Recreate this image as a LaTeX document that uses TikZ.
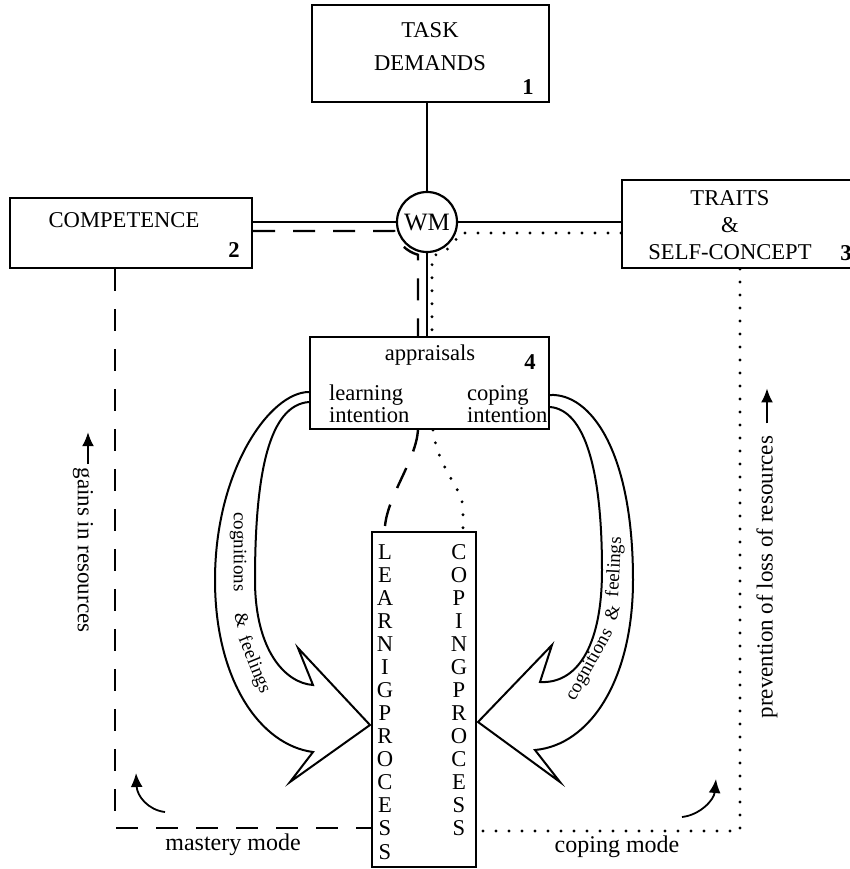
\documentclass[tikz,border=0pt]{standalone}
\usepackage{fontspec}
\setmainfont{Liberation Serif}
\usetikzlibrary{arrows.meta, positioning, calc}
\tikzstyle{block}=[draw,rectangle,line width=1pt,inner sep=0pt]
\tikzstyle{every node}=[font=\fontsize{11.3}{13.5}\selectfont]
\tikzstyle{num}=[font=\fontsize{11.3}{13}\selectfont\bfseries]
\tikzstyle{link}=[line width=0.9pt]
\tikzstyle{mastery}=[line width=1.2pt,dash pattern=on 11pt off 9pt]
\tikzstyle{coping}=[line width=1.6pt,dash pattern=on 0pt off 6.5pt,line cap=round]
\tikzstyle{bigarrow}=[line width=1pt,line join=miter]
\tikzstyle{sidelbl}=[font=\fontsize{11.5}{13}\selectfont,inner sep=1pt]
\tikzstyle{arrowlbl}=[font=\fontsize{9.5}{11}\selectfont,inner sep=1pt]
\tikzstyle{modelbl}=[font=\fontsize{12}{14}\selectfont]

\begin{document}
\begin{tikzpicture}[x=0.5pt,y=-0.5pt,>={Latex[length=7pt,width=6pt]}]
    \useasboundingbox (0,0) rectangle (850,869);

    \node[block, minimum width=118.5pt, minimum height=48.5pt] (task) at (430.5,53.5) {};
    \node[align=center, font=\fontsize{11.3}{16.5}\selectfont] (tasktxt) at (430,47) {TASK\\DEMANDS};
    \node[num] (n1) at ($(task.south east)+(-22,-16)$) {1};

    \node[block, minimum width=121pt, minimum height=35pt] (comp) at (131,233) {};
    \node (comptxt) at (124,220) {COMPETENCE};
    \node[num] (n2) at ($(comp.south east)+(-19,-19)$) {2};

    \node[block, minimum width=118pt, minimum height=44pt] (traits) at (740,224) {};
    \node[align=center] (traitstxt) at (730,225) {TRAITS\\\&\\SELF-CONCEPT};
    \node[num] (n3) at ($(traits.south east)+(-13,-16)$) {3};

    \node[draw, circle, line width=1.1pt, minimum size=30pt, inner sep=0pt,
          font=\fontsize{12.5}{14}\selectfont] (wm) at (427,222) {WM};

    \node[block, minimum width=119.5pt, minimum height=46pt] (appr) at (429.5,383) {};
    \node (apprtxt) at (430,355) {appraisals};
    \node[num] (n4) at ($(appr.north east)+(-20,26)$) {4};
    \node[align=left, anchor=west, font=\fontsize{11.3}{11}\selectfont] (learnint) at (322,404) {learning\\intention};
    \node[align=left, anchor=west, font=\fontsize{11.3}{11}\selectfont] (copeint) at (460,404) {coping\\intention};

    \node[block, minimum width=52pt, minimum height=167.5pt] (proc) at (424,699.5) {};
    \foreach \ch [count=\i from 0] in {L,E,A,R,N,I,G,P,R,O,C,E,S,S}
        \node (learn\i) at (385,{552+23.05*\i}) {\ch};
    \foreach \ch [count=\i from 0] in {C,O,P,I,N,G,P,R,O,C,E,S,S}
        \node (cope\i) at (459,{552+23.05*\i}) {\ch};

    \coordinate (wmsw) at ($(wm.center)+(-32.8,9)$);
    \coordinate (wmse) at ($(wm.center)+(32.2,11)$);
    \coordinate (wmdash) at ($(wm.center)+(-9,0)$);
    \coordinate (wmdot) at ($(wm.center)+(5,0)$);

    \draw[link] (task.south -| wm.north) -- (wm.north);
    \draw[link] (wm.west) -- (wm.west -| comp.east);
    \draw[link] (wm.east) -- (wm.east -| traits.west);
    \draw[link] (wm.south) -- (wm.south |- appr.north);
    \draw[mastery] (wmsw -| comp.east) -- (wmsw) arc[start angle=195.4, end angle=254.6, radius=17pt] -- (wmdash |- appr.north);
    \draw[coping] (wmse -| traits.west) -- (wmse) arc[start angle=-18.9, end angle=-81.5, radius=17pt] -- (wmdot |- appr.north);

    \draw[mastery] ($(appr.south)+(-11.5,0)$) .. controls (416,460) and (388,495) .. ($(proc.north)+(-39,-5)$);
    \draw[coping] ($(appr.south)+(3.5,0)$) .. controls (438,470) and (463,488) .. ($(proc.north)+(39,-22)$) -- ($(proc.north)+(39,0)$);

    \draw[bigarrow] ($(appr.west)+(0,9)$) .. controls (270,392) and (215,470) .. (215,580)
        .. controls (215,680) and (260,745) .. (313,752) -- (290,782) -- (370,725) -- (298,648) -- (313,685)
        .. controls (285,683) and (255,650) .. (255,580) .. controls (255,470) and (270,405) .. ($(appr.west)+(0,19)$);
    \draw[bigarrow] ($(appr.east)+(0,12)$) .. controls (590,393) and (633,450) .. (633,580)
        .. controls (633,680) and (590,745) .. (535,750) -- (560,782) -- (478,722) -- (552,645) -- (540,682)
        .. controls (575,684) and (602,650) .. (602,570) .. controls (602,470) and (585,410) .. ($(appr.east)+(0,24)$);

    \node[arrowlbl, rotate=-90] (cogl) at (238,552) {cognitions};
    \node[arrowlbl, rotate=-75] (ampl) at (242,620) {\&};
    \node[arrowlbl, rotate=-68] (feell) at (254,665) {feelings};
    \node[arrowlbl, rotate=61] (cogr) at (590,665) {cognitions};
    \node[arrowlbl, rotate=75] (ampr) at (612,613) {\&};
    \node[arrowlbl, rotate=87] (feelr) at (615,567) {feelings};

    \coordinate (mcorner) at (115,828);
    \coordinate (ccorner) at (740,831);
    \draw[mastery] (comp.south -| mcorner) -- (mcorner) -- (mcorner -| proc.west);
    \draw[coping] (traits.south) -- (ccorner) -- (ccorner -| proc.east);

    \node[modelbl] (masterymode) at (233,845) {mastery mode};
    \node[modelbl] (copingmode) at (617,847) {coping mode};

    \coordinate (mtail) at (165,812);
    \coordinate (mhead) at (136,773);
    \coordinate (ctail) at (682,817);
    \coordinate (chead) at (716,779);
    \draw[->,link] (mtail) .. controls (148,810) and (137,796) .. (mhead);
    \draw[->,link] (ctail) .. controls (700,815) and (714,800) .. (chead);

    \node[sidelbl, rotate=-90] (gains) at (83,550) {gains in resources};
    \draw[->,link] ($(gains.west)+(5,-1)$) -- ++(0,-32);
    \node[sidelbl, rotate=90] (prevent) at (767,577) {prevention of loss of resources};
    \draw[->,link] ($(prevent.east)+(0,-10)$) -- ++(0,-35);
\end{tikzpicture}
\end{document}
